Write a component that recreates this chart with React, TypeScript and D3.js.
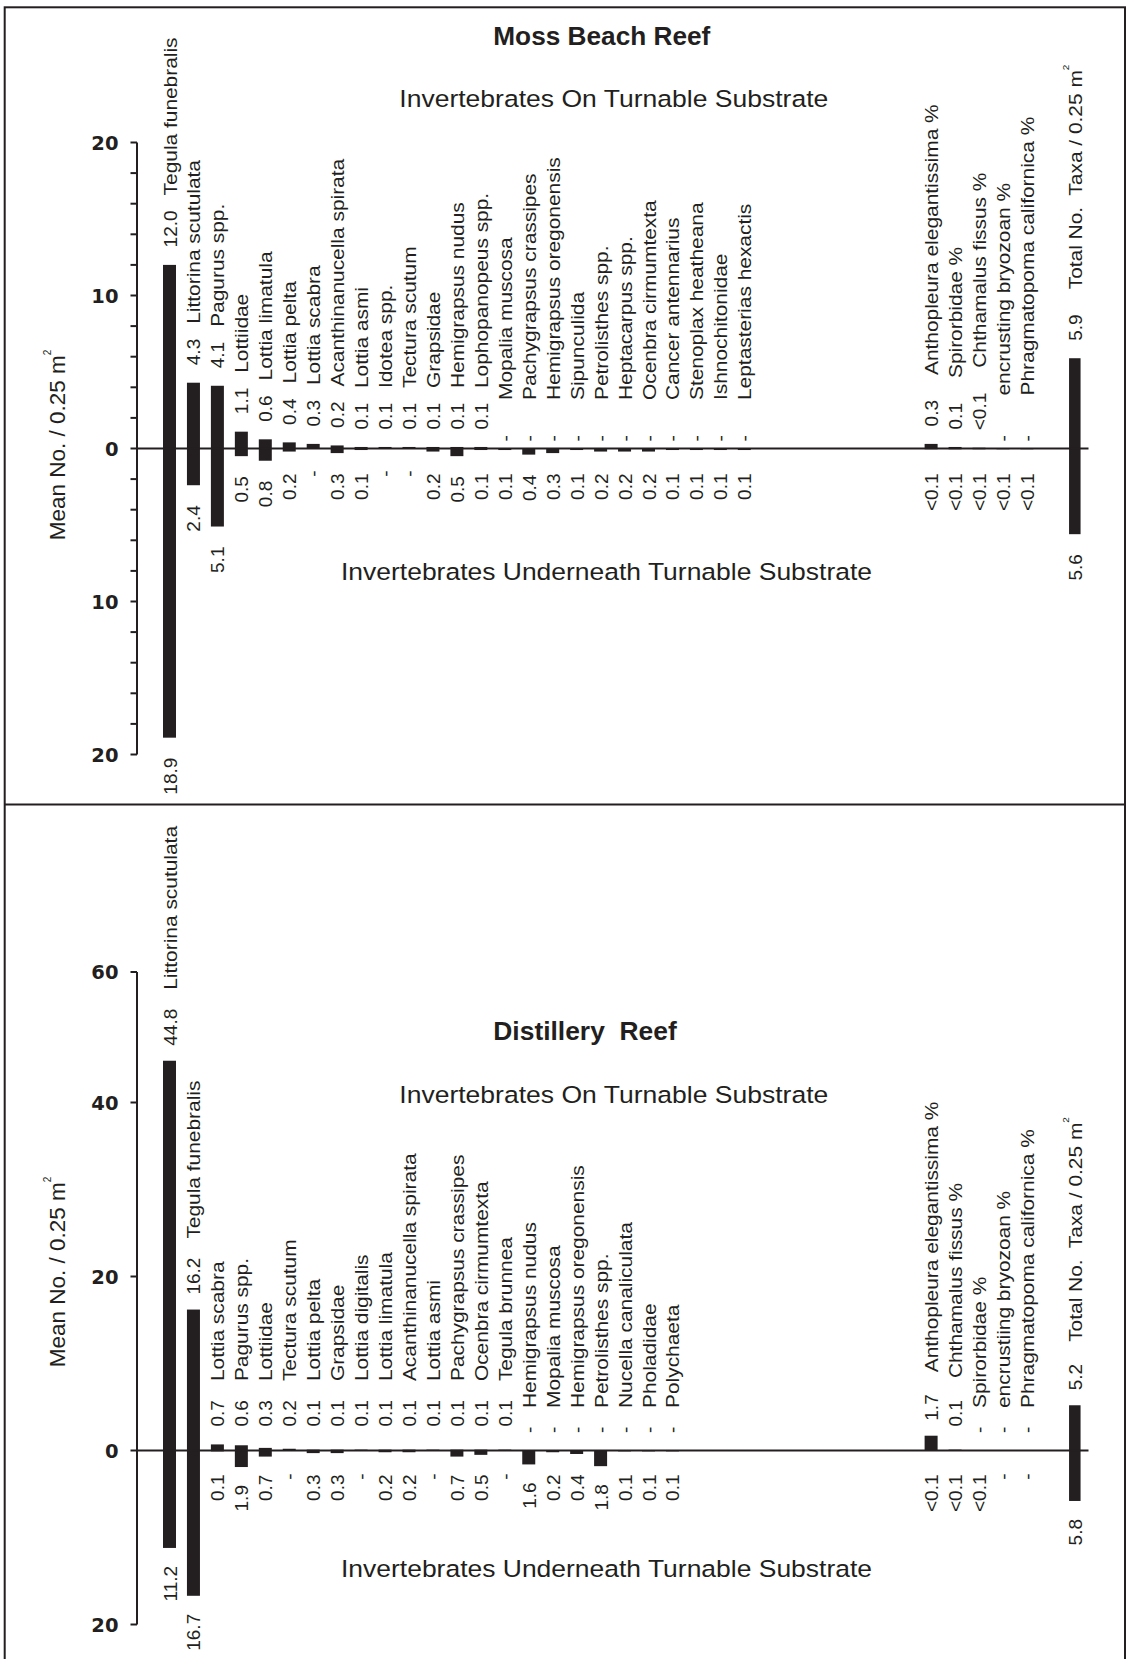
import React from "react";
import * as d3 from "d3";

// ---------- DATA ----------
const mossTaxa = [
  "Tegula funebralis", "Littorina scutulata", "Pagurus spp.", "Lottiidae", "Lottia limatula",
  "Lottia pelta", "Lottia scabra", "Acanthinanucella spirata", "Lottia asmi", "Idotea spp.",
  "Tectura scutum", "Grapsidae", "Hemigrapsus nudus", "Lophopanopeus spp.", "Mopalia muscosa",
  "Pachygrapsus crassipes", "Hemigrapsus oregonensis", "Sipunculida", "Petrolisthes spp.",
  "Heptacarpus spp.", "Ocenbra cirmumtexta", "Cancer antennarius", "Stenoplax heatheana",
  "Ishnochitonidae", "Leptasterias hexactis",
];
const mossOn = [12.0, 4.3, 4.1, 1.1, 0.6, 0.4, 0.3, 0.2, 0.1, 0.1, 0.1, 0.1, 0.1, 0.1, 0, 0, 0, 0, 0, 0, 0, 0, 0, 0, 0];
const mossUnder = [18.9, 2.4, 5.1, 0.5, 0.8, 0.2, 0, 0.3, 0.1, 0, 0, 0.2, 0.5, 0.1, 0.1, 0.4, 0.3, 0.1, 0.2, 0.2, 0.2, 0.1, 0.1, 0.1, 0.1];
const mossOtherTaxa = ["Anthopleura elegantissima %", "Spirorbidae %", "Chthamalus fissus %", "encrusting bryozoan %", "Phragmatopoma californica %"];
const mossOtherOn = [0.3, 0.1, 0.05, 0, 0];
const mossOtherUnder = [0.05, 0.05, 0.05, 0.05, 0.05];
const mossTotalOn = 5.9;
const mossTotalUnder = 5.6;
const mossTickMarks = d3.range(-20, 21, 2);
const mossTickValues = [20, 10, 0, -10, -20];
const mossTickLabels = ["20", "10", "0", "10", "20"];

const distTaxa = [
  "Littorina scutulata", "Tegula funebralis", "Lottia scabra", "Pagurus spp.", "Lottiidae",
  "Tectura scutum", "Lottia pelta", "Grapsidae", "Lottia digitalis", "Lottia limatula",
  "Acanthinanucella spirata", "Lottia asmi", "Pachygrapsus crassipes", "Ocenbra cirmumtexta",
  "Tegula brunnea", "Hemigrapsus nudus", "Mopalia muscosa", "Hemigrapsus oregonensis",
  "Petrolisthes spp.", "Nucella canaliculata", "Pholadidae", "Polychaeta",
];
const distOn = [44.8, 16.2, 0.7, 0.6, 0.3, 0.2, 0.1, 0.1, 0.1, 0.1, 0.1, 0.1, 0.1, 0.1, 0.1, 0, 0, 0, 0, 0, 0, 0];
const distUnder = [11.2, 16.7, 0.1, 1.9, 0.7, 0, 0.3, 0.3, 0, 0.2, 0.2, 0, 0.7, 0.5, 0, 1.6, 0.2, 0.4, 1.8, 0.1, 0.1, 0.1];
const distOtherTaxa = ["Anthopleura elegantissima %", "Chthamalus fissus %", "Spirorbidae %", "encrustiing bryozoan %", "Phragmatopoma californica %"];
const distOtherOn = [1.7, 0.1, 0, 0, 0];
const distOtherUnder = [0.05, 0.05, 0.05, 0, 0];
const distTotalOn = 5.2;
const distTotalUnder = 5.8;
const distTickMarks = [55, 40, 20, 0, -20];
const distTickValues = [55, 40, 20, 0, -20];
const distTickLabels = ["60", "40", "20", "0", "20"];

const totalName = "Total No.  Taxa / 0.25 m";

// ---------- STYLE ----------
const INK = "#231f20";
const FONT = "'Liberation Sans', Arial, Helvetica, sans-serif";
const FS = 19;
const NAME_SX = 1.1;

const charW: Record<string, number> = { ".": 0.278, "<": 0.584, "-": 0.333 };
function textW(s: string, fs: number) {
  let w = 0;
  for (const c of s) w += charW[c] ?? 0.556;
  return w * fs;
}
function fmt(v: number) {
  if (v === 0) return "-";
  if (v < 0.1) return "<0.1";
  return v.toFixed(1);
}

type Lay = {
  onOff: number; onMin: number; onGap: number; otherGap: number; dashOn: number; dashName: number;
  otherDashName: number; underOff: number; underMin: number; dashUnder: number;
};

function Panel(props: any) {
  const {
    taxa, on, under, otherTaxa, otherOn, otherUnder, totalOn, totalUnder,
    y, tickMarks, tickValues, tickLabels, axisTop, axisBottom, lay, yLabelY,
    title, titleX, titleY, titleLen, subOnY, subUnderY,
  } = props as any;
  const L: Lay = lay;
  const xSlot = d3.scaleLinear().domain([0, 1]).range([169.5, 193.45]);
  const zero = y(0);
  const items = [
    ...taxa.map((t: string, i: number) => ({ name: t, on: on[i], under: under[i], x: xSlot(i), w: 13, sup: false, other: false })),
    ...otherTaxa.map((t: string, j: number) => ({ name: t, on: otherOn[j], under: otherUnder[j], x: xSlot(31.8 + j), w: 13, sup: false, other: true })),
    { name: totalName, on: totalOn, under: totalUnder, x: xSlot(37.8), w: 11.5, sup: true, other: true },
  ];
  const axisX = 137;

  return (
    <g>
      {items.map((d: any, i: number) => (
        <g key={"b" + i}>
          {d.on > 0 && (
            <rect x={d.x - d.w / 2} y={y(d.on)} width={d.w} height={zero - y(d.on)} fill={INK} />
          )}
          {d.under > 0 && (
            <rect x={d.x - d.w / 2} y={zero} width={d.w} height={y(-d.under) - zero} fill={INK} />
          )}
        </g>
      ))}
      <line x1={axisX} x2={1088.5} y1={zero} y2={zero} stroke={INK} strokeWidth={2} />
      <line x1={axisX} x2={axisX} y1={y(axisTop)} y2={y(axisBottom)} stroke={INK} strokeWidth={2} />
      {tickMarks.map((t: number) => (
        <line key={"t" + t} x1={axisX - 6.5} x2={axisX} y1={y(t)} y2={y(t)} stroke={INK} strokeWidth={2} />
      ))}
      {tickValues.map((t: number, i: number) => (
        <text key={"tl" + i} x={118.5} y={y(t)} dy="0.36em" textAnchor="end"
          fontFamily="'DejaVu Sans', sans-serif" fontWeight="bold" fontSize={19.5} fill={INK}>
          {tickLabels[i]}
        </text>
      ))}
      <text transform={`translate(65,${yLabelY}) rotate(-90)`} textAnchor="middle"
        fontFamily={FONT} fontSize={22.5} fill={INK}>
        Mean No. / 0.25 m<tspan dy={-14} fontSize={10}>2</tspan>
      </text>
      <text x={titleX} y={titleY} fontFamily={FONT} fontWeight="bold" fontSize={25.5} fill={INK}
        textLength={titleLen} lengthAdjust="spacingAndGlyphs" xmlSpace="preserve" style={{ whiteSpace: "pre" }}>
        {title}
      </text>
      <text x={399.3} y={subOnY} fontFamily={FONT} fontSize={24.5} fill={INK}
        textLength={429} lengthAdjust="spacingAndGlyphs">
        Invertebrates On Turnable Substrate
      </text>
      <text x={341} y={subUnderY} fontFamily={FONT} fontSize={24.5} fill={INK}
        textLength={531} lengthAdjust="spacingAndGlyphs">
        Invertebrates Underneath Turnable Substrate
      </text>
      {items.map((d: any, i: number) => {
        const bx = d.x + 7;
        const vs = fmt(d.on);
        let ys: number, ns: number;
        if (d.on === 0) {
          ys = zero - L.dashOn;
          ns = zero - (d.other ? L.otherDashName : L.dashName);
        } else {
          ys = Math.min(y(d.on) - L.onOff, zero - L.onMin);
          ns = ys - textW(vs, FS) - (d.other ? L.otherGap : L.onGap);
        }
        const us = fmt(d.under);
        const ye = d.under === 0 ? zero + L.dashUnder : Math.max(y(-d.under) + L.underOff, zero + L.underMin);
        return (
          <g key={"l" + i} fontFamily={FONT} fill={INK}>
            <text transform={`translate(${bx},${ys}) rotate(-90)`} fontSize={FS}>{vs}</text>
            <text transform={`translate(${bx},${ns}) rotate(-90) scale(${NAME_SX},1)`} fontSize={FS}
              xmlSpace="preserve" style={{ whiteSpace: "pre" }}>
              {d.name}
              {d.sup && <tspan dy={-12.5} fontSize={9}>2</tspan>}
            </text>
            <text transform={`translate(${bx},${ye}) rotate(-90)`} textAnchor="end" fontSize={FS}>{us}</text>
          </g>
        );
      })}
    </g>
  );
}

export default function App() {
  const W = 1127, H = 1659;
  const yMoss = d3.scaleLinear().domain([0, 1]).range([448.5, 448.5 - 15.3]);
  const yDist = d3.scaleLinear().domain([0, 1]).range([1450.5, 1450.5 - 8.7]);
  const layMoss: Lay = { onOff: 17.5, onMin: 17, onGap: 15, otherGap: 25, dashOn: 7, dashName: 48.5, otherDashName: 53, underOff: 20, underMin: 25, dashUnder: 22 };
  const layDist: Lay = { onOff: 15, onMin: 24, onGap: 19, otherGap: 22, dashOn: 17.5, dashName: 42.5, otherDashName: 42.5, underOff: 18, underMin: 24, dashUnder: 23 };
  return (
    <svg width={W} height={H} viewBox={`0 0 ${W} ${H}`}
      style={{ position: "absolute", left: 0, top: 0, background: "#fff" }}>
      <rect x={0} y={0} width={W} height={H} fill="#fff" />
      <rect x={4.7} y={7.3} width={1125 - 4.7} height={1670} fill="none" stroke={INK} strokeWidth={2} />
      <line x1={4.7} x2={1125} y1={804.5} y2={804.5} stroke={INK} strokeWidth={2} />
      <Panel
        taxa={mossTaxa} on={mossOn} under={mossUnder}
        otherTaxa={mossOtherTaxa} otherOn={mossOtherOn} otherUnder={mossOtherUnder}
        totalOn={mossTotalOn} totalUnder={mossTotalUnder}
        y={yMoss} tickMarks={mossTickMarks} tickValues={mossTickValues} tickLabels={mossTickLabels}
        axisTop={20} axisBottom={-20} lay={layMoss} yLabelY={445}
        title="Moss Beach Reef" titleX={493.3} titleY={45} titleLen={217}
        subOnY={106.7} subUnderY={580}
      />
      <Panel
        taxa={distTaxa} on={distOn} under={distUnder}
        otherTaxa={distOtherTaxa} otherOn={distOtherOn} otherUnder={distOtherUnder}
        totalOn={distTotalOn} totalUnder={distTotalUnder}
        y={yDist} tickMarks={distTickMarks} tickValues={distTickValues} tickLabels={distTickLabels}
        axisTop={55} axisBottom={-20} lay={layDist} yLabelY={1272}
        title="Distillery  Reef" titleX={493.3} titleY={1040} titleLen={183.4}
        subOnY={1103.3} subUnderY={1576.7}
      />
    </svg>
  );
}
